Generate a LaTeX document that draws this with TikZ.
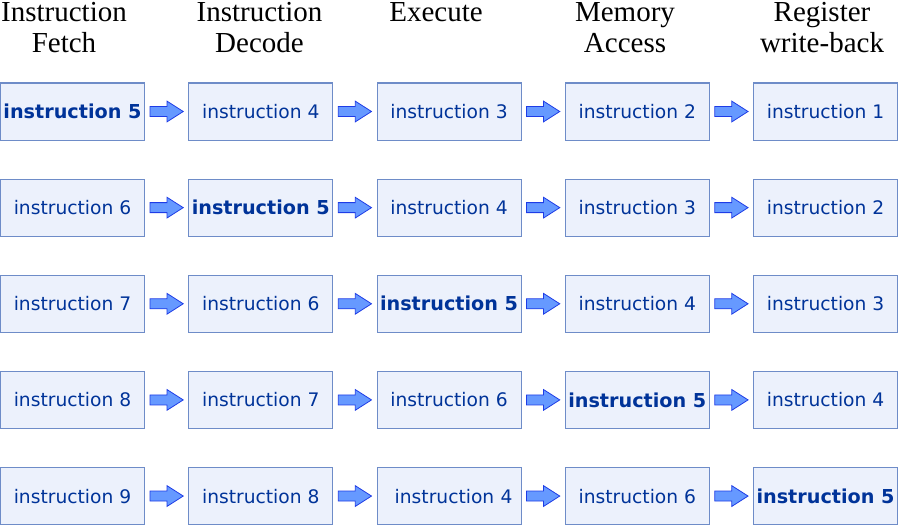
\documentclass[tikz,border=0pt]{standalone}
\usepackage{fontspec}
\setmainfont{Liberation Serif}
\newfontfamily\boxfont{DejaVu Sans}
\usetikzlibrary{positioning,calc}
\definecolor{boxfill}{RGB}{236,241,252}
\definecolor{boxline}{RGB}{110,140,200}
\definecolor{boxtext}{RGB}{0,51,153}
\definecolor{arrowfill}{RGB}{102,153,255}
\definecolor{arrowline}{RGB}{30,60,230}
\tikzset{
  stage/.style={
    rectangle,
    draw=boxline,
    line width=0.8pt,
    fill=boxfill,
    minimum width=108pt,
    minimum height=42.8pt,
    inner sep=0pt,
    text=boxtext,
    font=\boxfont\fontsize{14}{16}\selectfont
  },
  current/.style={
    stage,
    font=\boxfont\bfseries\fontsize{14.4}{17}\selectfont
  },
  header/.style={
    anchor=north,
    align=center,
    inner sep=0pt,
    font=\fontsize{21.75}{23.25}\selectfont
  },
  flow/.style={
    draw=arrowline,
    fill=arrowfill,
    line width=0.6pt,
    line join=miter,
    to path={
      ($(\tikztostart.east)+(3.75pt,3.75pt)$) -- ++(12.75pt,0pt) -- ++(0pt,4pt)
      -- ($(\tikztotarget.west)+(-3.75pt,0pt)$)
      -- ($(\tikztostart.east)+(16.5pt,-7.75pt)$) -- ++(0pt,4pt) -- ++(-12.75pt,0pt) -- cycle
    }
  }
}
\begin{document}
\begin{tikzpicture}[x=0.75pt, y=-0.75pt, node distance=28.5pt and 32.4pt]
\useasboundingbox (0,0) rectangle (899,526);
% stage names
\node[header] (hfetch) at (64,2) {Instruction\\Fetch};
\node[header] (hdec) at (259.5,2) {Instruction\\Decode};
\node[header] (hexe) at (436,2) {Execute};
\node[header] (hmem) at (625,2) {Memory\\Access};
\node[header] (hwb) at (822,2) {Register\\write-back};
% clock 1
\node[current] (fetch1) at (72.5,111.5) {instruction 5};
\node[stage, right=of fetch1] (dec1) {instruction 4};
\node[stage, right=of dec1] (exe1) {instruction 3};
\node[stage, right=of exe1] (mem1) {instruction 2};
\node[stage, right=of mem1] (wb1) {instruction 1};
% clock 2
\node[stage, below=of fetch1] (fetch2) {instruction 6};
\node[current, right=of fetch2] (dec2) {instruction 5};
\node[stage, right=of dec2] (exe2) {instruction 4};
\node[stage, right=of exe2] (mem2) {instruction 3};
\node[stage, right=of mem2] (wb2) {instruction 2};
% clock 3
\node[stage, below=of fetch2] (fetch3) {instruction 7};
\node[stage, right=of fetch3] (dec3) {instruction 6};
\node[current, right=of dec3] (exe3) {instruction 5};
\node[stage, right=of exe3] (mem3) {instruction 4};
\node[stage, right=of mem3] (wb3) {instruction 3};
% clock 4
\node[stage, below=of fetch3] (fetch4) {instruction 8};
\node[stage, right=of fetch4] (dec4) {instruction 7};
\node[stage, right=of dec4] (exe4) {instruction 6};
\node[current, right=of exe4] (mem4) {instruction 5};
\node[stage, right=of mem4] (wb4) {instruction 4};
% clock 5
\node[stage, below=of fetch4] (fetch5) {instruction 9};
\node[stage, right=of fetch5] (dec5) {instruction 8};
\node[stage, right=of dec5, text width=95pt, align=right] (exe5) {instruction 4};
\node[stage, right=of exe5] (mem5) {instruction 6};
\node[current, right=of mem5] (wb5) {instruction 5};
% arrows
\draw[flow] (fetch1) to (dec1);
\draw[flow] (dec1) to (exe1);
\draw[flow] (exe1) to (mem1);
\draw[flow] (mem1) to (wb1);
\draw[flow] (fetch2) to (dec2);
\draw[flow] (dec2) to (exe2);
\draw[flow] (exe2) to (mem2);
\draw[flow] (mem2) to (wb2);
\draw[flow] (fetch3) to (dec3);
\draw[flow] (dec3) to (exe3);
\draw[flow] (exe3) to (mem3);
\draw[flow] (mem3) to (wb3);
\draw[flow] (fetch4) to (dec4);
\draw[flow] (dec4) to (exe4);
\draw[flow] (exe4) to (mem4);
\draw[flow] (mem4) to (wb4);
\draw[flow] (fetch5) to (dec5);
\draw[flow] (dec5) to (exe5);
\draw[flow] (exe5) to (mem5);
\draw[flow] (mem5) to (wb5);
\end{tikzpicture}
\end{document}
